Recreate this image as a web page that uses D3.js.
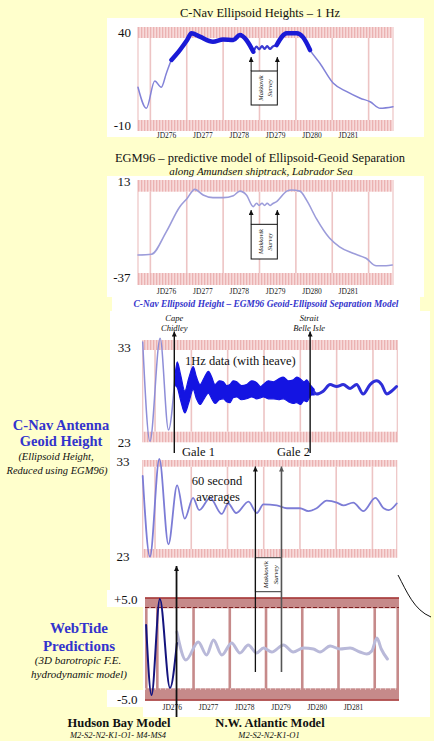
<!DOCTYPE html>
<html><head><meta charset="utf-8">
<script src="https://cdn.jsdelivr.net/npm/d3@7"></script>
<style>
html,body{margin:0;padding:0;background:#FFFFCC;}
svg{display:block;}
</style></head><body>
<svg id="c" width="434" height="741"></svg>
<script>
// ---------------- DATA ----------------
const dayDomain = [275.66, 282.67];
const dayLines = [276, 277, 278, 279, 280, 281, 282];
const jdDays = [276, 277, 278, 279, 280, 281];
const surveyDays = [278.77, 279.49];          // Makkovik survey
const capeChidleyDay = 276.53;
const belleIsleDay = 280.27;
const heaveWindows = [[276.55, 278.85], [279.45, 280.4]];

// Panel 1: C-Nav ellipsoid heights (m)
const ellDays = [275.66, 275.89, 276.12, 276.30, 276.44, 276.58, 276.81, 277.01, 277.13, 277.36, 277.72, 278.00, 278.28, 278.46, 278.64, 278.83, 278.92, 278.99, 279.07, 279.14, 279.21, 279.29, 279.36, 279.47, 279.75, 280.02, 280.20, 280.39, 280.66, 281.03, 281.40, 281.77, 282.04, 282.32, 282.67];
const ellHeight = [10.3, -1.0, 13.7, 10.3, 17.8, 25.0, 30.3, 35.7, 39.3, 37.5, 34.8, 36.0, 35.7, 38.4, 35.7, 29.4, 32.1, 30.7, 32.4, 30.9, 32.4, 30.9, 32.1, 33.0, 39.3, 39.3, 37.1, 30.3, 23.2, 12.4, 7.9, 4.4, 2.5, -1.0, -0.2];

// Panel 2: EGM96 separation (m)
const egmDays = [275.66, 276.03, 276.44, 276.81, 277.01, 277.22, 277.45, 277.72, 278.00, 278.28, 278.46, 278.64, 278.83, 278.92, 278.99, 279.07, 279.14, 279.21, 279.29, 279.36, 279.47, 279.75, 279.88, 280.11, 280.29, 280.56, 280.93, 281.20, 281.57, 281.93, 282.21, 282.48, 282.65];
const egmSep = [-25.2, -24.8, -13.0, 0.0, 4.3, 9.0, 6.1, 4.7, 4.7, 5.7, 8.1, 6.1, 0.0, 1.8, 0.6, 1.8, 0.6, 1.8, 0.6, 1.5, 2.6, 8.1, 8.7, 8.1, 3.5, -6.1, -16.5, -20.9, -24.3, -26.9, -30.8, -30.8, -30.4];

// Panel 3: 1 Hz geoid height (with heave)
const hzLeftDays = [275.66, 275.86, 276.14, 276.37, 276.55];
const hzLeftVals = [33.6, 23.1, 34.0, 24.3, 30.0];
const hzBandDays = [276.55, 276.61, 276.70, 276.82, 276.93, 277.05, 277.14, 277.24, 277.35, 277.47, 277.56, 277.65, 277.77, 277.88, 277.97, 278.06, 278.15, 278.25, 278.38, 278.52, 278.66, 278.80, 278.90, 278.98, 279.12, 279.26, 279.40, 279.53, 279.67, 279.81, 279.90, 280.00, 280.10, 280.18, 280.25, 280.31, 280.38];
const hzBandHigh = [30.0, 31.5, 30.2, 28.4, 29.8, 31.0, 29.9, 29.1, 29.8, 30.5, 29.9, 29.1, 29.5, 29.4, 29.0, 29.1, 29.5, 29.4, 29.0, 29.1, 29.5, 29.3, 28.9, 29.1, 29.5, 29.4, 29.7, 29.9, 29.5, 29.6, 29.9, 29.7, 29.4, 29.6, 29.2, 28.9, 28.6];
const hzBandLow = [29.0, 28.8, 27.5, 26.1, 27.2, 28.6, 27.6, 27.0, 27.6, 28.2, 27.6, 27.1, 27.5, 27.6, 27.3, 27.2, 27.7, 27.8, 27.5, 27.6, 27.8, 27.6, 27.7, 27.8, 27.6, 27.6, 27.5, 27.6, 27.3, 27.1, 27.2, 27.0, 27.4, 27.3, 27.7, 28.0, 28.0];
const hzRightDays = [280.38, 280.45, 280.63, 280.82, 281.00, 281.18, 281.37, 281.55, 281.73, 281.92, 282.10, 282.24, 282.38, 282.51, 282.65];
const hzRightVals = [28.3, 28.1, 28.4, 29.1, 28.9, 29.1, 28.7, 29.1, 28.1, 29.1, 29.5, 29.1, 28.1, 28.4, 28.9];

// Panel 4: 60 second averages
const avgDays = [275.66, 275.86, 276.12, 276.37, 276.61, 276.82, 277.05, 277.22, 277.52, 277.84, 278.02, 278.24, 278.58, 278.81, 278.99, 279.36, 279.64, 280.00, 280.23, 280.46, 280.74, 281.02, 281.20, 281.47, 281.75, 282.08, 282.31, 282.45, 282.67];
const avgVals = [31.5, 23.0, 33.3, 24.3, 30.5, 27.0, 29.2, 27.9, 29.2, 27.5, 28.6, 27.6, 28.8, 27.6, 28.5, 28.4, 28.1, 28.1, 27.8, 28.1, 28.9, 28.7, 28.4, 28.7, 27.8, 29.2, 28.1, 27.9, 28.6];

// Panel 5: WebTide predictions (m)
const hbDays = [275.69, 275.84, 276.07, 276.35, 276.54];
const hbTide = [2.4, -4.6, 5.0, -3.9, 0.6];
const nwaDays = [276.54, 276.79, 277.13, 277.36, 277.55, 277.78, 278.05, 278.28, 278.51, 278.74, 278.93, 279.16, 279.48, 279.75, 280.03, 280.31, 280.49, 280.77, 281.04, 281.32, 281.59, 281.78, 281.92, 282.06, 282.18, 282.35];
const nwaTide = [1.7, -1.1, 0.7, -0.6, 0.9, -0.6, 0.6, -0.4, 0.4, -0.4, 0.1, -0.3, 0.4, -0.3, 0.1, 0.0, -0.3, 0.3, 0.0, 0.1, -0.3, -0.5, -0.2, 1.1, 0.0, -1.0];

// ---------------- DRAWING ----------------
const F = '"Liberation Serif","Times New Roman",Times,serif';
const svg = d3.select("#c");
svg.append("rect").attr("width", 434).attr("height", 741).attr("fill", "#FFFFCC");

const defs = svg.append("defs");
const pat = defs.append("pattern").attr("id", "stripe").attr("patternUnits", "userSpaceOnUse")
  .attr("width", 3).attr("height", 10);
pat.append("rect").attr("width", 3).attr("height", 10).attr("fill", "#F7DADA");
pat.append("rect").attr("width", 1.3).attr("height", 10).attr("fill", "#EBB2B2");
defs.append("marker").attr("id", "arr").attr("viewBox", "0 0 10 10")
  .attr("refX", 10).attr("refY", 5).attr("markerWidth", 6).attr("markerHeight", 5)
  .attr("markerUnits", "userSpaceOnUse").attr("orient", "auto")
  .append("path").attr("d", "M0,0 L10,5 L0,10 z").attr("fill", "#111");
defs.append("marker").attr("id", "arrg").attr("viewBox", "0 0 10 10")
  .attr("refX", 10).attr("refY", 5).attr("markerWidth", 6).attr("markerHeight", 5)
  .attr("markerUnits", "userSpaceOnUse").attr("orient", "auto")
  .append("path").attr("d", "M0,0 L10,5 L0,10 z").attr("fill", "#555");

// white backgrounds of the pasted figures
[[107, 18, 317, 119], [107, 176, 317, 121], [112, 297, 308, 14], [110, 311, 320, 286],
 [143, 597, 287, 120], [107, 590, 36, 17], [107, 690, 36, 17]].forEach(r =>
  svg.append("rect").attr("x", r[0]).attr("y", r[1]).attr("width", r[2]).attr("height", r[3]).attr("fill", "#FFFFFF"));

function txt(parent, x, y, s, o = {}) {
  return parent.append("text").attr("x", x).attr("y", y).text(s)
    .attr("font-family", F).attr("font-size", o.size || 12)
    .attr("font-style", o.italic ? "italic" : "normal")
    .attr("font-weight", o.bold ? "bold" : "normal")
    .attr("fill", o.fill || "#111")
    .attr("text-anchor", o.anchor || "start");
}

function styleAxis(a, size, fill) {
  a.select(".domain").remove();
  a.attr("font-family", F);
  a.selectAll("text").attr("font-size", size).attr("fill", fill).attr("font-family", F);
}

function panelFrame(c) {
  const g = svg.append("g");
  const xs = d3.scaleLinear().domain(dayDomain).range([c.x0, c.x1]);
  const ys = d3.scaleLinear().domain(c.yDom).range(c.yRng);
  const [t0, t1] = c.top, [b0, b1] = c.bot;
  g.selectAll("line.dl").data(dayLines).join("line").attr("class", "dl")
    .attr("x1", d => xs(d)).attr("x2", d => xs(d)).attr("y1", t1).attr("y2", b0)
    .attr("stroke", "#EDC4C4").attr("stroke-width", 1.6);
  [c.x0, c.x1].forEach(x => g.append("line").attr("x1", x).attr("x2", x).attr("y1", t0).attr("y2", b1)
    .attr("stroke", "#EDC4C4").attr("stroke-width", 1.2));
  g.append("rect").attr("x", c.x0).attr("y", t0).attr("width", c.x1 - c.x0).attr("height", t1 - t0).attr("fill", "url(#stripe)");
  g.append("rect").attr("x", c.x0).attr("y", b0).attr("width", c.x1 - c.x0).attr("height", b1 - b0).attr("fill", "url(#stripe)");
  g.append("g").attr("transform", `translate(${c.labelX},0)`)
    .call(d3.axisLeft(ys).tickValues(c.yTicks).tickFormat(c.fmt || (d => d)).tickSize(0).tickPadding(0))
    .call(a => styleAxis(a, 13, "#111"));
  if (c.jdY !== undefined) {
    g.append("g").attr("transform", `translate(0,${c.jdY})`)
      .call(d3.axisBottom(xs).tickValues(jdDays.map(d => d + 0.43)).tickFormat(d => "JD" + Math.floor(d)).tickSize(0).tickPadding(0))
      .call(a => styleAxis(a, 7.5, "#222"));
  }
  return { g, xs, ys };
}

const zip = (xs, ys) => xs.map((d, i) => ({ d, v: ys[i] }));
function linePath(g, P, data, color, w) {
  const ln = d3.line().x(p => P.xs(p.d)).y(p => P.ys(p.v)).curve(d3.curveMonotoneX);
  g.append("path").attr("d", ln(data)).attr("fill", "none").attr("stroke", color)
    .attr("stroke-width", w).attr("stroke-linejoin", "round").attr("stroke-linecap", "round");
}
function makkovik(g, P, tipV, topV, botV, fs, rel) {
  const xl = P.xs(surveyDays[0]), xr = P.xs(surveyDays[1]);
  const yt = P.ys(topV), yb = P.ys(botV), tip = P.ys(tipV);
  g.append("rect").attr("x", xl).attr("y", yt).attr("width", xr - xl).attr("height", yb - yt)
    .attr("fill", "#fff").attr("stroke", "#111").attr("stroke-width", 1);
  [xl, xr].forEach(x => g.append("line").attr("x1", x).attr("x2", x).attr("y1", yt).attr("y2", tip)
    .attr("stroke", "#111").attr("stroke-width", 1).attr("marker-end", "url(#arr)"));
  const cy = (yt + yb) / 2, w = xr - xl;
  [["Makkovik", rel[0]], ["Survey", rel[1]]].forEach(([s, r]) =>
    txt(g, 0, 0, s, { size: fs, italic: true, anchor: "middle" })
      .attr("transform", `translate(${xl + r * w},${cy}) rotate(-90)`));
}

// ---- Titles ----
txt(svg, 260, 17, "C-Nav Ellipsoid Heights – 1 Hz", { size: 12.5, anchor: "middle" });
txt(svg, 260, 162, "EGM96 – predictive model of Ellipsoid-Geoid Separation", { size: 12.5, anchor: "middle" });
txt(svg, 261, 174.5, "along Amundsen shiptrack, Labrador Sea", { size: 11, italic: true, anchor: "middle" });
txt(svg, 266, 306.5, "C-Nav Ellipsoid Height – EGM96 Geoid-Ellipsoid Separation Model",
  { size: 9.4, italic: true, bold: true, fill: "#3535CC", anchor: "middle" });

// ---- Panel 1 ----
const P1 = panelFrame({ x0: 138, x1: 393, yDom: [-10, 40], yRng: [125, 32], top: [27, 38], bot: [120, 131],
  labelX: 131, yTicks: [40, -10], jdY: 132.2 });
const ell = zip(ellDays, ellHeight);
linePath(P1.g, P1, ell, "#8282D8", 1.5);
linePath(P1.g, P1, ell.filter(p => p.d >= heaveWindows[0][1] - 0.05 && p.d <= heaveWindows[1][0] + 0.05), "#3A3AD2", 2.2);
heaveWindows.forEach(w => linePath(P1.g, P1, ell.filter(p => p.d >= w[0] && p.d <= w[1]), "#1A1AD6", 4.5));
makkovik(P1.g, P1, 26.56, 19.03, 0.75, 6.5, [0.46, 0.8]);

// ---- Panel 2 ----
const P2 = panelFrame({ x0: 138, x1: 393, yDom: [-37, 13], yRng: [277.7, 181.7], top: [180, 191.7], bot: [273, 285],
  labelX: 130.5, yTicks: [13, -37], jdY: 289 });
linePath(P2.g, P2, zip(egmDays, egmSep), "#9C9CDA", 1.6);
makkovik(P2.g, P2, -1.74, -9.2, -27.26, 6.5, [0.46, 0.8]);

// ---- Panel 3 ----
const P3 = panelFrame({ x0: 142.7, x1: 397.3, yDom: [23, 33], yRng: [442.3, 347.7], top: [340, 350], bot: [431.7, 442.3],
  labelX: 130.7, yTicks: [33, 23] });
linePath(P3.g, P3, zip(hzLeftDays, hzLeftVals), "#8E8ED8", 1.5);
const band = hzBandDays.map((d, i) => ({ d, hi: hzBandHigh[i], lo: hzBandLow[i] }));
P3.g.append("path").attr("d", d3.area().x(p => P3.xs(p.d)).y0(p => P3.ys(p.lo)).y1(p => P3.ys(p.hi)).curve(d3.curveMonotoneX)(band))
  .attr("fill", "#1414E2").attr("stroke", "#1414E2").attr("stroke-width", 1.2);
linePath(P3.g, P3, zip(hzRightDays, hzRightVals), "#2E2ED8", 3);
txt(P3.g, 185, 364.5, "1Hz data (with heave)", { size: 12.5 });

// annotations for panel 3
const xCape = P3.xs(capeChidleyDay), xBelle = P3.xs(belleIsleDay);
[xCape, xBelle].forEach(x => svg.append("line").attr("x1", x).attr("x2", x).attr("y1", 453).attr("y2", 331.5)
  .attr("stroke", "#111").attr("stroke-width", 1.4).attr("marker-end", "url(#arr)"));
txt(svg, xCape, 320.5, "Cape", { size: 8.5, italic: true, anchor: "middle" });
txt(svg, xCape, 330.5, "Chidley", { size: 8.5, italic: true, anchor: "middle" });
txt(svg, xBelle - 1, 320.5, "Strait", { size: 8.5, italic: true, anchor: "middle" });
txt(svg, xBelle - 1, 330.5, "Belle Isle", { size: 8.5, italic: true, anchor: "middle" });
txt(svg, 182, 456, "Gale 1", { size: 12.5 });
txt(svg, 277, 456, "Gale 2", { size: 12.5 });

// ---- Panel 4 ----
const P4 = panelFrame({ x0: 142.7, x1: 396.7, yDom: [23, 33], yRng: [556.7, 461.7], top: [460, 466.7], bot: [549, 557.7],
  labelX: 129.5, yTicks: [33, 23] });
linePath(P4.g, P4, zip(avgDays, avgVals), "#7C7CD6", 1.8);
txt(P4.g, 217, 485, "60 second", { size: 12.5, anchor: "middle" });
txt(P4.g, 218, 500.5, "averages", { size: 12.5, anchor: "middle" });

// ---- Left labels ----
txt(svg, 61, 430, "C-Nav Antenna", { size: 14.5, bold: true, fill: "#3333CC", anchor: "middle" });
txt(svg, 61, 445.5, "Geoid Height", { size: 14.5, bold: true, fill: "#3333CC", anchor: "middle" });
txt(svg, 56, 460, "(Ellipsoid Height,", { size: 10.5, italic: true, anchor: "middle" });
txt(svg, 57, 473.5, "Reduced using EGM96)", { size: 10.5, italic: true, anchor: "middle" });

txt(svg, 79, 633, "WebTide", { size: 15, bold: true, fill: "#3333CC", anchor: "middle" });
txt(svg, 79, 650.5, "Predictions", { size: 15, bold: true, fill: "#3333CC", anchor: "middle" });
txt(svg, 78, 664, "(3D barotropic F.E.", { size: 11, italic: true, anchor: "middle" });
txt(svg, 79, 677.5, "hydrodynamic model)", { size: 11, italic: true, anchor: "middle" });

// ---- Panel 5 (WebTide) ----
const g5 = svg.append("g");
const P5 = { g: g5, xs: d3.scaleLinear().domain(dayDomain).range([145, 399]), ys: d3.scaleLinear().domain([-5, 5]).range([699, 599]) };
const bandCol = "#C68A8A", darkRed = "#9E2626";
g5.append("rect").attr("x", 145).attr("y", 598.3).attr("width", 254).attr("height", 10).attr("fill", bandCol);
g5.append("rect").attr("x", 145).attr("y", 688.3).attr("width", 254).attr("height", 11).attr("fill", bandCol);
g5.selectAll("rect.bar").data(dayLines).join("rect").attr("class", "bar")
  .attr("x", d => P5.xs(d) - 1.3).attr("y", 608).attr("width", 2.6).attr("height", 81).attr("fill", bandCol);
[145, 396.4].forEach(x => g5.append("rect").attr("x", x).attr("y", 608).attr("width", 2.6).attr("height", 81).attr("fill", bandCol));
g5.append("line").attr("x1", 145).attr("x2", 399).attr("y1", 598).attr("y2", 598).attr("stroke", darkRed).attr("stroke-width", 1.6);
g5.append("line").attr("x1", 145).attr("x2", 399).attr("y1", 700).attr("y2", 700).attr("stroke", darkRed).attr("stroke-width", 1.6);
g5.append("line").attr("x1", 145).attr("x2", 399).attr("y1", 607.5).attr("y2", 607.5).attr("stroke", "#7E1E1E").attr("stroke-width", 1).attr("stroke-dasharray", "4,2");
g5.append("line").attr("x1", 145).attr("x2", 399).attr("y1", 689).attr("y2", 689).attr("stroke", "#FFFFFF").attr("stroke-width", 0.8).attr("stroke-dasharray", "1,4");
g5.append("g").attr("transform", "translate(137.5,0)")
  .call(d3.axisLeft(P5.ys).tickValues([5, -5]).tickFormat(d => (d > 0 ? "+" : "-") + Math.abs(d).toFixed(1)).tickSize(0).tickPadding(0))
  .call(a => styleAxis(a, 13, "#111"));
g5.append("g").attr("transform", "translate(0,705)")
  .call(d3.axisBottom(P5.xs).tickValues(jdDays.map(d => d + 0.4)).tickFormat(d => "JD" + Math.floor(d)).tickSize(0).tickPadding(0))
  .call(a => styleAxis(a, 7.5, "#222"));
linePath(g5, P5, zip(nwaDays, nwaTide), "#B9B9D9", 3);
linePath(g5, P5, zip(hbDays, hbTide), "#14147E", 2);

// ---- lower Makkovik survey box & arrows ----
const xl4 = P4.xs(surveyDays[0]), xr4 = P4.xs(surveyDays[1]);
svg.append("rect").attr("x", xl4).attr("y", 557.7).attr("width", xr4 - xl4).attr("height", 34)
  .attr("fill", "#fff").attr("stroke", "#333").attr("stroke-width", 1);
svg.append("line").attr("x1", xl4).attr("x2", xl4).attr("y1", 672).attr("y2", 466.5)
  .attr("stroke", "#111").attr("stroke-width", 1.3).attr("marker-end", "url(#arr)");
svg.append("line").attr("x1", xr4).attr("x2", xr4).attr("y1", 672).attr("y2", 466.5)
  .attr("stroke", "#555").attr("stroke-width", 1.6).attr("marker-end", "url(#arrg)");
[["Makkovik", 0.5], ["Survey", 0.86]].forEach(([s, r]) =>
  txt(svg, 0, 0, s, { size: 7, italic: true, anchor: "middle" })
    .attr("transform", `translate(${xl4 + r * (xr4 - xl4)},${574.7}) rotate(-90)`));
const xHB = P5.xs(capeChidleyDay);
svg.append("line").attr("x1", xHB).attr("x2", xHB).attr("y1", 717).attr("y2", 566)
  .attr("stroke", "#111").attr("stroke-width", 1.8).attr("marker-end", "url(#arr)");
svg.append("path").attr("d", "M398,575 C407,592 414,610 431,617").attr("fill", "none").attr("stroke", "#111").attr("stroke-width", 1);

// ---- bottom labels ----
txt(svg, 119, 727, "Hudson Bay Model", { size: 12.5, bold: true, anchor: "middle" });
txt(svg, 118, 738, "M2-S2-N2-K1-O1- M4-MS4", { size: 8.5, italic: true, anchor: "middle" });
txt(svg, 270, 727, "N.W. Atlantic Model", { size: 12.5, bold: true, anchor: "middle" });
txt(svg, 269, 738, "M2-S2-N2-K1-O1", { size: 8.5, italic: true, anchor: "middle" });
</script>
</body></html>
